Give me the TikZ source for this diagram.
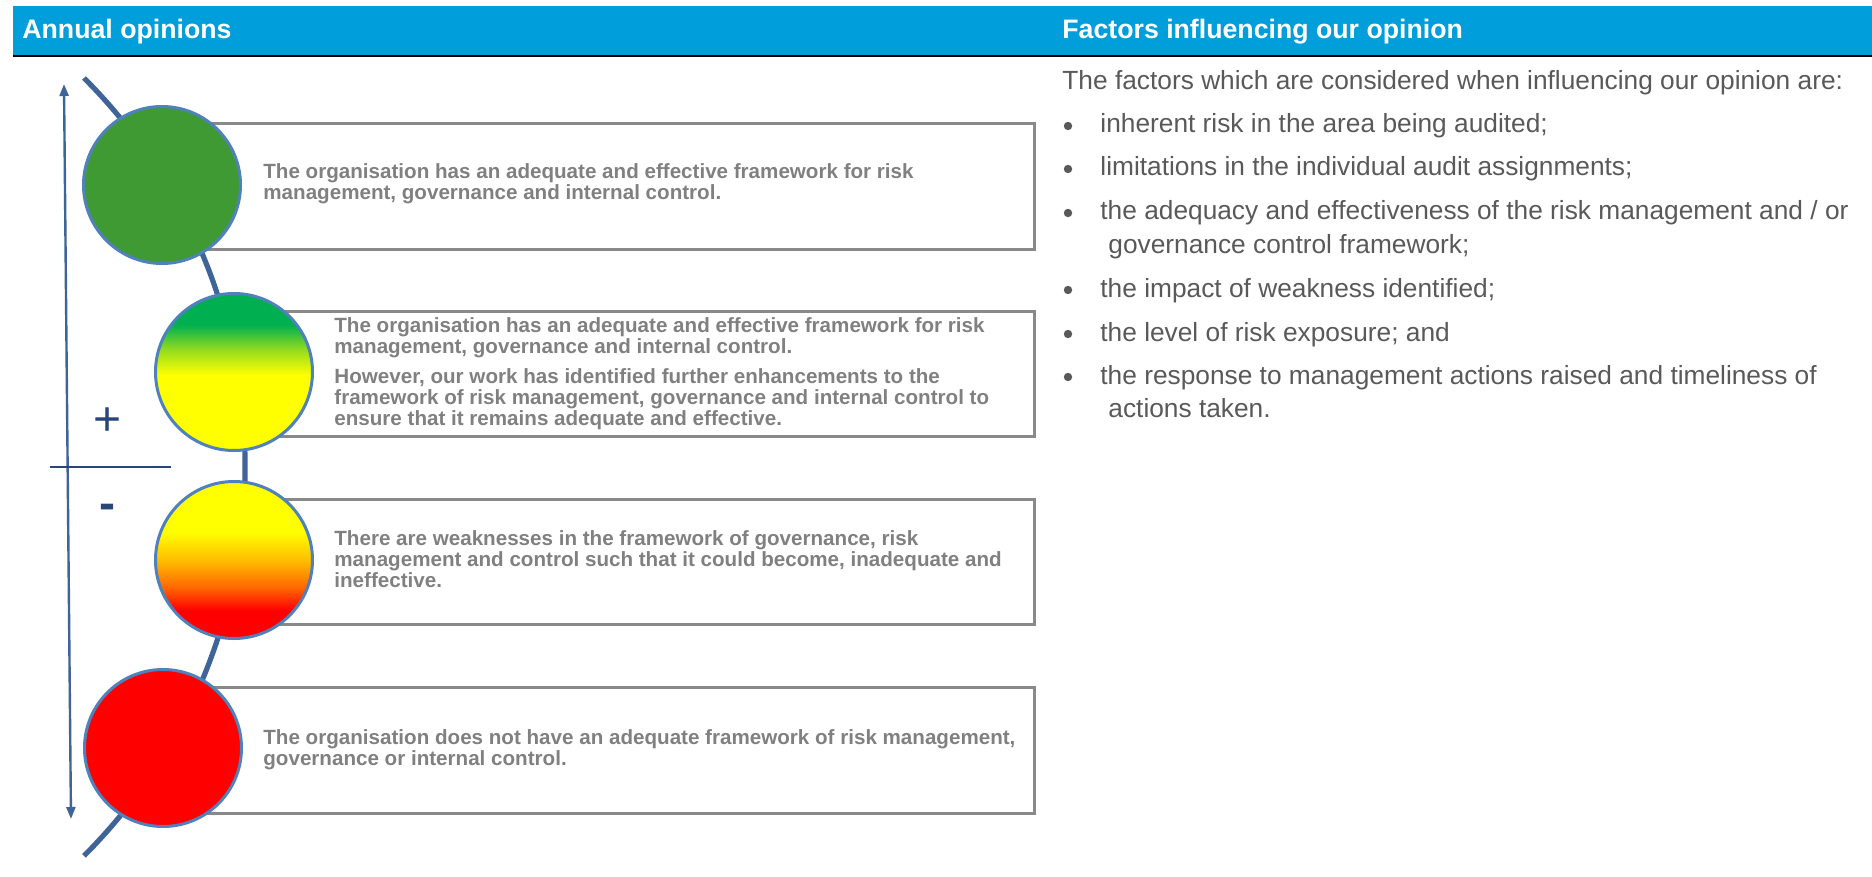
\documentclass[tikz,border=0pt]{standalone}
\usepackage{fontspec}
\setmainfont{Liberation Sans}
\usetikzlibrary{arrows.meta}

\definecolor{headblue}{RGB}{0,158,219}
\definecolor{stemblue}{RGB}{62,100,152}
\definecolor{signblue}{RGB}{40,70,122}
\definecolor{rimblue}{RGB}{79,129,189}
\definecolor{panelgray}{RGB}{137,137,137}
\definecolor{paneltext}{RGB}{128,128,128}
\definecolor{listtext}{RGB}{89,89,89}
\definecolor{lampgreen}{RGB}{64,154,52}
\definecolor{lamptop}{RGB}{0,176,80}
\definecolor{lamplime}{RGB}{150,220,30}
\definecolor{lampyellow}{RGB}{255,255,0}
\definecolor{lamporange}{RGB}{255,190,0}
\definecolor{lampburnt}{RGB}{255,100,0}
\definecolor{lampred}{RGB}{255,0,0}

\pgfdeclareverticalshading{greentoyellow}{100bp}{color(0bp)=(lampyellow); color(49bp)=(lampyellow); color(57bp)=(lamplime); color(65bp)=(lamptop); color(100bp)=(lamptop)}
\pgfdeclareverticalshading{yellowtored}{100bp}{color(0bp)=(lampred); color(34bp)=(lampred); color(41bp)=(lampburnt); color(50bp)=(lamporange); color(59bp)=(lampyellow); color(100bp)=(lampyellow)}

\tikzset{
	lamp/.style={circle, draw=rimblue, line width=1.5pt, minimum size=78.5pt, inner sep=0pt},
	panel/.style={draw=panelgray, line width=1.3pt, anchor=north west, inner sep=0pt},
	paneltxt/.style={anchor=base west, align=left, inner sep=0pt, text=paneltext, font=\bfseries\fontsize{10.3}{10.5}\selectfont},
	listtxt/.style={anchor=base west, inner sep=0pt, text=listtext, font=\fontsize{13.15}{16.5}\selectfont},
	headtxt/.style={anchor=base west, inner sep=0pt, text=white, font=\bfseries\fontsize{13.35}{15}\selectfont},
	dot/.style={circle, fill=listtext, inner sep=0pt, minimum size=4.2pt},
	sign/.style={text=signblue, inner sep=0pt, font=\fontsize{24}{24}\selectfont}
}

\begin{document}
\begin{tikzpicture}[x=0.5pt,y=-0.5pt]
	\useasboundingbox (0,0) rectangle (1872,877);
	\fill[headblue] (13,6) rectangle (1872,55);
	\draw[line width=1.1pt] (13,56) -- (1872,56);
	\node[headtxt] (annual) at (22,39) {Annual opinions};
	\node[headtxt] (factors) at (1062,39) {Factors influencing our opinion};

	\coordinate (stemtop) at (84,78);
	\draw[stemblue, line width=2.6pt] (stemtop) arc[start angle=-45, end angle=45, radius=550];
	\coordinate (scaletop) at (64,84);
	\coordinate (scalebot) at (71,819);
	\draw[stemblue, line width=1.2pt, {Triangle[length=6pt,width=4.5pt]}-{Triangle[length=6pt,width=4.5pt]}] (scaletop) -- (scalebot);
	\coordinate (midleft) at (50,467);
	\coordinate (midright) at (171,467);
	\draw[signblue, line width=1.3pt] (midleft) -- (midright);
	\node[sign] (plus) at (108,422) {+};
	\node[sign] (minus) at (107,512) {\bfseries -};

	\node[panel, minimum width=435.5pt, minimum height=63pt] (b1) at (162,122) {};
	\node[panel, minimum width=399.5pt, minimum height=62.5pt] (b2) at (234,310) {};
	\node[panel, minimum width=399.5pt, minimum height=62.5pt] (b3) at (234,498) {};
	\node[panel, minimum width=435.5pt, minimum height=63pt] (b4) at (162,686) {};

	\node[lamp, fill=lampgreen] (c1) at (162,185) {};
	\node[lamp, shade, shading=greentoyellow] (c2) at (234,372) {};
	\node[lamp, shade, shading=yellowtored] (c3) at (234,560) {};
	\node[lamp, fill=lampred] (c4) at (163,748) {};

	\node[paneltxt] (t1) at (263,200) {The organisation has an adequate and effective framework for risk\\management, governance and internal control.};
	\node[paneltxt] (t2) at (334,425) {The organisation has an adequate and effective framework for risk\\management, governance and internal control.\\[4.5pt]However, our work has identified further enhancements to the\\framework of risk management, governance and internal control to\\ensure that it remains adequate and effective.};
	\node[paneltxt] (t3) at (334,587) {There are weaknesses in the framework of governance, risk\\management and control such that it could become, inadequate and\\ineffective.};
	\node[paneltxt] (t4) at (263,765) {The organisation does not have an adequate framework of risk management,\\governance or internal control.};

	\node[listtxt] (intro) at (1062,90) {The factors which are considered when influencing our opinion are:};
	\node[dot] (d1) at (1068,126) {};
	\node[listtxt] (f1) at (1100,133) {inherent risk in the area being audited;};
	\node[dot] (d2) at (1068,169) {};
	\node[listtxt] (f2) at (1100,176) {limitations in the individual audit assignments;};
	\node[dot] (d3) at (1068,213) {};
	\node[listtxt] (f3) at (1100,220) {the adequacy and effectiveness of the risk management and / or};
	\node[listtxt] (f3b) at (1108,253) {governance control framework;};
	\node[dot] (d4) at (1068,290) {};
	\node[listtxt] (f4) at (1100,297) {the impact of weakness identified;};
	\node[dot] (d5) at (1068,334) {};
	\node[listtxt] (f5) at (1100,341) {the level of risk exposure; and};
	\node[dot] (d6) at (1068,377) {};
	\node[listtxt] (f6) at (1100,384) {the response to management actions raised and timeliness of};
	\node[listtxt] (f6b) at (1108,417) {actions taken.};
\end{tikzpicture}
\end{document}
